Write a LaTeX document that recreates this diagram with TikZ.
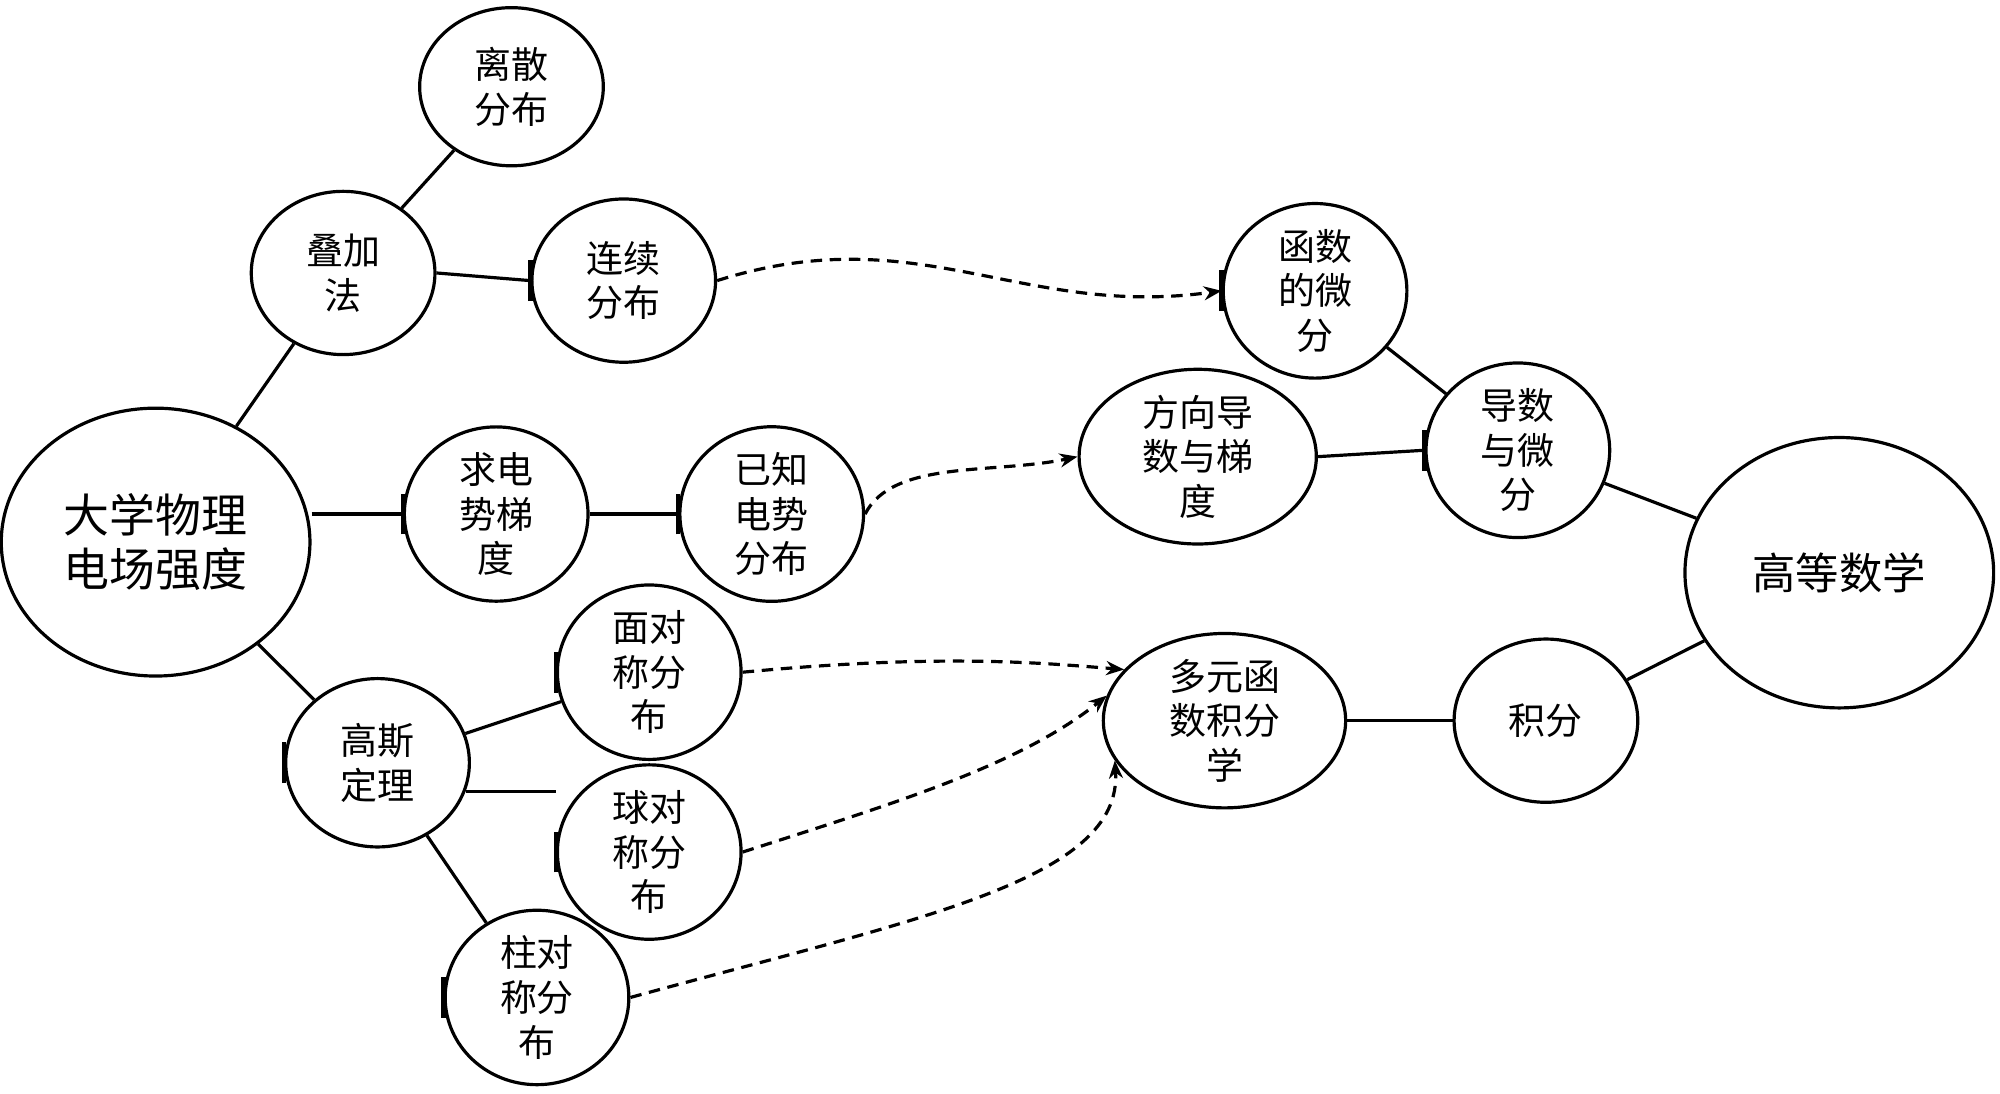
\documentclass[tikz,border=0pt]{standalone}
\usepackage{fontspec}
\setmainfont{Noto Sans CJK SC}
\usetikzlibrary{arrows.meta,shapes.geometric}
\tikzset{
 nd/.style={draw,ellipse,line width=2.5pt,align=center,font=\fontsize{29}{35}\selectfont,inner sep=0pt},
 ln/.style={line width=2.5pt},
 bar/.style={line width=3.5pt},
 da/.style={line width=2.5pt,dashed,dash pattern=on 9pt off 6pt,-{Stealth[length=14pt,width=11pt]}}
}
\begin{document}
\begin{tikzpicture}[x=1pt,y=-1pt]
\useasboundingbox (0,0) rectangle (1568,857);
\newcommand{\el}[6]{\node[nd,minimum width=#4pt,minimum height=#5pt] (#1) at (#2,#3) {#6};}
\el{ls}{401}{68}{144}{124}{离散\\分布}
\el{dj}{269}{214}{144}{128}{叠加\\法}
\el{lx}{489}{220}{144}{128}{连续\\分布}
\node[nd,minimum width=242pt,minimum height=210pt,font=\fontsize{36}{42}\selectfont] (dx) at (122,425) {大学物理\\电场强度};
\el{qd}{389}{403}{144}{132}{求电\\势梯\\度}
\el{yz}{605}{403}{144}{132}{已知\\电势\\分布}
\el{mian}{509}{527}{144}{132}{面对\\称分\\布}
\el{gs}{296}{598}{144}{132}{高斯\\定理}
\el{qiu}{509}{668}{144}{132}{球对\\称分\\布}
\el{zhu}{421}{782}{144}{132}{柱对\\称分\\布}
\el{hs}{1031}{228}{144}{130}{函数\\的微\\分}
\el{fx}{939}{358}{186}{130}{方向导\\数与梯\\度}
\el{ds}{1190}{353}{144}{132}{导数\\与微\\分}
\node[nd,minimum width=242pt,minimum height=212pt,font=\fontsize{34}{40}\selectfont] (gd) at (1442,449) {高等数学};
\el{dy}{960}{565}{190}{132}{多元函\\数积分\\学}
\el{jf}{1212}{565}{144}{128}{积分}
% solid connectors
\draw[ln] (dj) -- (ls);
\draw[ln] (dx) -- (dj);
\draw[ln] (dj.east) -- (lx.west);
\draw[ln] (dx.east |- qd.west) -- (qd.west);
\draw[ln] (qd.east) -- (yz.west);
\draw[ln] (dx) -- (gs);
\draw[ln] (gs) -- (mian);
\draw[ln] (gs.-18) -- (qiu.west |- gs.-18);
\draw[ln] (gs) -- (zhu);
\draw[ln] (fx.east) -- (ds.west);
\draw[ln] (hs) -- (ds);
\draw[ln] (ds) -- (gd);
\draw[ln] (dy.east) -- (jf.west);
\draw[ln] (jf) -- (gd);
% bars
\foreach \n in {lx,qd,yz,mian,gs,qiu,zhu,hs,ds}
  \draw[bar] ([yshift=-16pt]\n.west) -- ([yshift=16pt]\n.west);
% dashed arrows
\draw[da] (lx.east) .. controls (720,170) and (800,250) .. (hs.west);
\draw[da] (yz.east) .. controls (700,360) and (780,372) .. (fx.west);
\draw[da] (mian.east) .. controls (740,512) and (820,520) .. (dy.153);
\draw[da] (qiu.east) .. controls (700,630) and (800,600) .. (dy.168);
\draw[da] (zhu.east) .. controls (720,720) and (880,690) .. (dy.200);
\end{tikzpicture}
\end{document}
